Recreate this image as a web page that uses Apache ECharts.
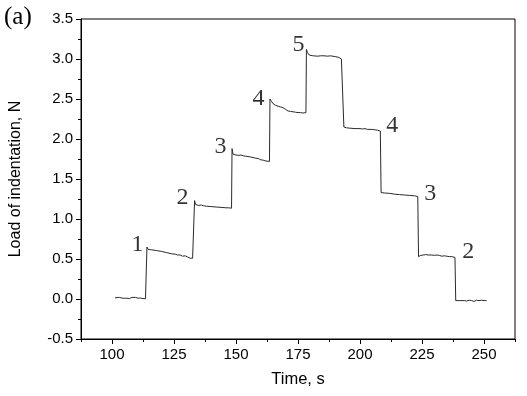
<!DOCTYPE html>
<html>
<head>
<meta charset="utf-8">
<script src="https://cdn.jsdelivr.net/npm/echarts@6/dist/echarts.min.js"></script>
<style>html,body{margin:0;padding:0;background:#fff}#c{width:527px;height:396px}</style>
</head>
<body>
<div id="c"></div>
<script>
// Time (s) and load (N)
const time = [
  101.2,102,103,104,105,106,107,108,108.8,109.5,110.5,111.5,112.5,113.5,114,
  114.1,114.6,116,118,120,122,124,125.5,126.5,127.5,128.5,129.5,130.5,131.5,132.5,133.1,
  133.3,133.7,134.5,135,136,137,138,140,142,144,146,147,148.2,
  148.4,148.8,150,151,152,153,154,156,158,159,160,161,162,163.5,
  163.7,164.3,165,166,167,168,169,170,171,172,173,174,175,176,177,178.2,
  178.4,178.8,179.5,181,183,184,185.5,187,188,190,191.5,192.5,193.3,
  193.5,194.5,196,198,200,201,202,203,205,206,207,208.2,
  208.5,210,212,214,216,218,220,222,223.3,
  223.6,224.5,225.5,226.5,227.5,229,230,231,232,233,234,235,236,237,238.3,
  238.6,240,242,243,244,245,246,247,248,249,250,251
];
const load = [
  0.015,0.018,0.02,0.012,0.008,0.01,0.005,0.02,0.03,0.02,0.01,0.012,0.005,0.003,0.0,
  0.65,0.62,0.615,0.605,0.595,0.58,0.565,0.56,0.55,0.55,0.535,0.54,0.525,0.51,0.51,0.51,
  1.23,1.18,1.19,1.17,1.175,1.165,1.16,1.155,1.15,1.145,1.14,1.14,1.135,
  1.88,1.81,1.80,1.795,1.80,1.79,1.785,1.775,1.76,1.755,1.74,1.735,1.725,1.72,
  2.50,2.47,2.44,2.42,2.41,2.40,2.39,2.37,2.35,2.345,2.34,2.335,2.33,2.33,2.325,2.33,
  3.12,3.08,3.05,3.04,3.035,3.04,3.04,3.035,3.04,3.03,3.02,3.0,2.98,
  2.15,2.14,2.135,2.13,2.13,2.125,2.13,2.12,2.12,2.115,2.11,2.10,
  1.33,1.325,1.32,1.31,1.305,1.30,1.295,1.29,1.28,
  0.53,0.545,0.55,0.555,0.55,0.55,0.545,0.55,0.545,0.535,0.54,0.535,0.53,0.53,0.52,
  -0.02,-0.02,-0.02,-0.025,-0.015,-0.02,-0.03,-0.015,-0.02,-0.015,-0.02,-0.02
];
// Step annotations
const stepLabels = ['1','2','3','4','5','4','3','2'];
const stepLabelTime = [110.3,128.4,143.8,159.1,175.2,213.0,228.3,243.6];
const stepLabelLoad = [0.675,1.27,1.90,2.50,3.175,2.16,1.32,0.59];
// Axis ticks
const xMajorTicks = [100,125,150,175,200,225,250];
const xMinorTicks = [87.5,112.5,137.5,162.5,187.5,212.5,237.5,262.5];

const chart = echarts.init(document.getElementById('c'), null, {renderer:'canvas'});
const sans = '"Liberation Sans", Arial, sans-serif';
const serif = '"Liberation Serif", "Times New Roman", serif';
const xMin = 87.5, xMax = 262.5;

chart.setOption({
  animation: false,
  backgroundColor: '#fff',
  grid: {left: 80, top: 19, right: 12, bottom: 57, show: true, borderColor: '#000', borderWidth: 1, backgroundColor: 'transparent'},
  xAxis: [{
    type: 'value', min: xMin, max: xMax,
    name: 'Time, s', nameLocation: 'middle', nameGap: 32,
    nameTextStyle: {fontFamily: sans, fontSize: 16.5, color: '#000'},
    axisLine: {show: true, onZero: false, lineStyle: {color: '#000', width: 1}},
    axisTick: {show: true, inside: false, length: 5, lineStyle: {color: '#000'}, customValues: xMajorTicks},
    axisLabel: {show: true, fontFamily: sans, fontSize: 15, color: '#000', margin: 8, customValues: xMajorTicks},
    splitLine: {show: false}
  },{
    type: 'value', min: xMin, max: xMax, position: 'bottom',
    axisLine: {show: false, onZero: false},
    axisTick: {show: true, inside: false, length: 3, lineStyle: {color: '#000'}, customValues: xMinorTicks},
    axisLabel: {show: false},
    splitLine: {show: false}
  }],
  yAxis: {
    type: 'value', min: -0.5, max: 3.5, interval: 0.5,
    name: 'Load of indentation, N', nameLocation: 'middle', nameGap: 57, nameRotate: 90,
    nameTextStyle: {fontFamily: sans, fontSize: 16, color: '#000'},
    axisLine: {show: true, onZero: false, lineStyle: {color: '#000', width: 1}},
    axisTick: {show: true, inside: false, length: 5, lineStyle: {color: '#000'}},
    minorTick: {show: true, splitNumber: 2, length: 3, lineStyle: {color: '#000'}},
    axisLabel: {fontFamily: sans, fontSize: 15, color: '#000', margin: 8, formatter: v => v.toFixed(1)},
    splitLine: {show: false}
  },
  series: [{
    type: 'line', xAxisIndex: 0,
    data: time.map((t, i) => [t, load[i]]),
    showSymbol: false, symbol: 'none',
    lineStyle: {color: '#2a2a2a', width: 1},
    silent: true
  },{
    type: 'scatter', xAxisIndex: 0,
    data: stepLabelTime.map((t, i) => ({value: [t, stepLabelLoad[i]], name: stepLabels[i]})),
    symbolSize: 0,
    label: {show: true, position: [0, 0], align: 'center', verticalAlign: 'middle',
      formatter: p => p.name, fontFamily: serif, fontSize: 24, color: '#000'},
    silent: true
  }],
  graphic: [{
    type: 'text', left: 4, top: 5,
    style: {text: '(a)', fontFamily: serif, fontSize: 25, fill: '#000'}
  }]
});
</script>
</body>
</html>
